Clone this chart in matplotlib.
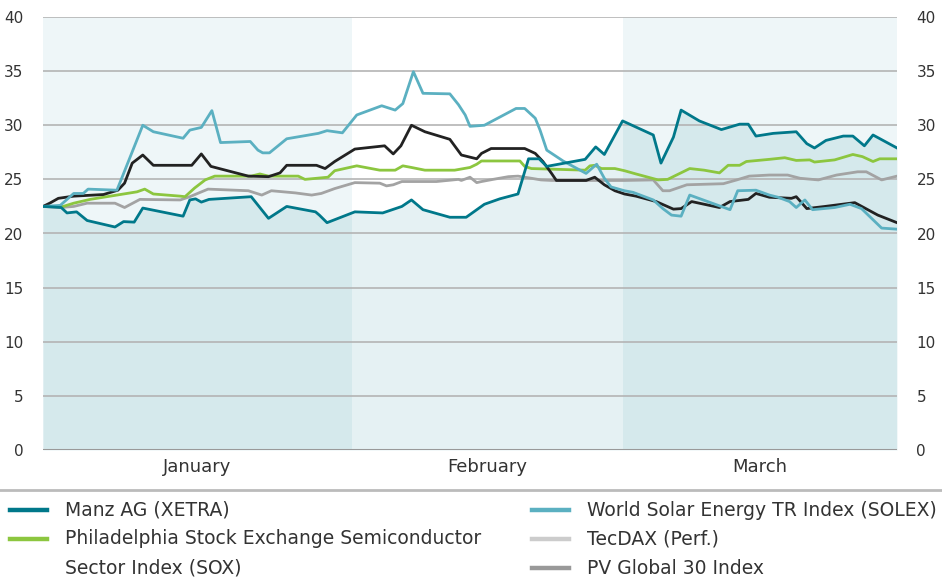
import matplotlib.pyplot as plt
from matplotlib.lines import Line2D

plt.rcParams['font.family'] = ['Liberation Sans Narrow', 'DejaVu Sans']

# trading-day position (0 = start of January, 89 = end of March) and price values
manz_x = [0, 1.9, 2.5, 3.5, 4.6, 7.5, 8.4, 9.5, 10.4, 14.6, 15.3, 15.9, 16.5, 17.3, 21.7,
          23.5, 25.4, 28.4, 28.8, 29.6, 32.5, 35.4, 37.4, 38.4, 39.6, 42.4, 44.1, 46.0, 47.6,
          49.5, 50.6, 51.7, 52.5, 56.5, 57.6, 58.5, 60.4, 63.6, 64.4, 65.7, 66.5, 68.4, 70.7,
          72.6, 73.5, 74.3, 76.1, 78.5, 79.6, 80.4, 81.6, 83.4, 84.4, 85.6, 86.5, 89]
manz_y = [22.5, 22.4, 21.9, 22.0, 21.2, 20.6, 21.1, 21.05, 22.35, 21.6, 23.1, 23.2, 22.9, 23.15, 23.4,
          21.4, 22.5, 22.0, 21.7, 21.0, 22.0, 21.9, 22.5, 23.1, 22.2, 21.5, 21.5, 22.7, 23.2,
          23.65, 26.9, 26.9, 26.2, 26.85, 28.0, 27.3, 30.4, 29.1, 26.5, 28.9, 31.4, 30.4, 29.6,
          30.1, 30.1, 29.0, 29.25, 29.4, 28.3, 27.9, 28.6, 29.0, 29.0, 28.1, 29.1, 27.9]

solex_x = [0, 1.8, 3.2, 4.2, 4.7, 7.7, 8.2, 10.4, 11.5, 14.6, 15.3, 16.5, 17.6, 18.5, 21.6,
           22.4, 22.9, 23.6, 25.4, 28.7, 29.6, 30.4, 31.2, 32.7, 35.3, 36.7, 37.5, 38.6, 39.6,
           42.4, 43.3, 44.0, 44.5, 46.0, 49.3, 50.2, 51.3, 51.8, 52.5, 54.2, 56.6, 57.7, 58.5,
           59.2, 60.6, 61.5, 63.6, 64.6, 65.5, 66.5, 67.4, 71.6, 72.4, 74.3, 75.7, 76.6, 77.8,
           78.5, 79.4, 80.2, 82.5, 84.1, 85.3, 87.4, 89]
solex_y = [22.5, 22.6, 23.7, 23.7, 24.1, 24.0, 25.1, 30.0, 29.4, 28.8, 29.55, 29.8, 31.35, 28.4, 28.5,
           27.7, 27.45, 27.45, 28.75, 29.25, 29.5, 29.4, 29.3, 30.95, 31.8, 31.4, 32.0, 34.95, 32.95,
           32.9, 31.9, 30.95, 29.9, 30.0, 31.55, 31.55, 30.65, 29.55, 27.7, 26.7, 25.55, 26.4, 25.1,
           24.3, 23.95, 23.8, 23.1, 22.3, 21.7, 21.6, 23.55, 22.2, 23.95, 24.0, 23.55, 23.35, 22.95,
           22.4, 23.1, 22.2, 22.4, 22.7, 22.3, 20.5, 20.4]

sox_x = [0, 2.1, 3.2, 4.9, 7.7, 9.8, 10.6, 11.5, 14.3, 14.8, 15.8, 16.9, 17.9, 21.7, 22.6,
         23.5, 26.6, 27.3, 29.7, 30.4, 32.7, 35.1, 36.7, 37.5, 38.4, 39.8, 42.9, 44.5, 45.2,
         45.7, 49.7, 50.2, 50.9, 56.5, 57.0, 57.5, 58.2, 59.6, 60.6, 61.8, 64.1, 65.1, 67.4,
         68.9, 70.5, 71.4, 72.6, 73.3, 75.7, 77.3, 78.5, 79.9, 80.4, 82.5, 84.4, 85.4, 86.5,
         87.2, 89]
sox_y = [22.5, 22.5, 22.8, 23.15, 23.55, 23.85, 24.1, 23.65, 23.45, 23.4, 24.2, 24.95, 25.3, 25.3, 25.5,
         25.3, 25.3, 25.0, 25.2, 25.8, 26.25, 25.85, 25.85, 26.25, 26.1, 25.85, 25.85, 26.1, 26.4,
         26.7, 26.7, 26.2, 26.0, 25.85, 26.25, 26.3, 26.0, 26.0, 25.8, 25.5, 24.95, 25.0, 26.0,
         25.85, 25.6, 26.3, 26.3, 26.65, 26.85, 27.0, 26.75, 26.8, 26.6, 26.8, 27.3, 27.1, 26.65,
         26.9, 26.9]

tecdax_x = [0, 0.7, 1.6, 3.2, 6.3, 7.8, 8.5, 9.3, 10.4, 11.5, 15.5, 16.5, 17.5, 21.4, 23.5,
            24.7, 25.4, 28.5, 29.4, 30.4, 32.5, 35.6, 36.5, 37.3, 38.4, 39.8, 42.4, 43.6, 45.2,
            45.7, 46.7, 50.2, 51.3, 52.1, 53.0, 53.5, 56.6, 57.5, 58.5, 59.6, 60.6, 61.8, 63.9,
            65.7, 66.5, 67.6, 70.5, 71.6, 73.5, 74.3, 75.7, 78.0, 78.5, 79.6, 81.5, 84.6, 87.0, 89]
tecdax_y = [22.5, 22.8, 23.25, 23.45, 23.6, 24.0, 24.65, 26.5, 27.25, 26.3, 26.3, 27.35, 26.2, 25.3, 25.25,
            25.6, 26.3, 26.3, 26.0, 26.65, 27.8, 28.1, 27.35, 28.1, 30.0, 29.4, 28.7, 27.25, 26.9,
            27.4, 27.85, 27.85, 27.4, 26.65, 25.55, 24.9, 24.9, 25.2, 24.5, 23.95, 23.65, 23.45, 22.95,
            22.25, 22.3, 22.95, 22.4, 22.95, 23.15, 23.7, 23.35, 23.25, 23.4, 22.3, 22.5, 22.85, 21.7, 21.0]

pv_x = [0, 1.8, 3.2, 4.6, 7.5, 8.5, 10.1, 14.3, 15.3, 17.2, 21.4, 22.8, 23.8, 26.3, 28.0,
        29.0, 30.4, 32.5, 35.1, 35.8, 36.5, 37.4, 41.0, 43.3, 43.6, 44.5, 45.2, 45.7, 46.9,
        48.5, 49.5, 50.9, 51.9, 53.0, 60.6, 63.6, 64.6, 65.3, 67.1, 70.9, 72.3, 73.6, 75.7,
        77.6, 78.9, 80.8, 82.7, 84.9, 85.8, 87.4, 89]
pv_y = [22.5, 22.4, 22.5, 22.8, 22.8, 22.4, 23.15, 23.1, 23.4, 24.1, 23.95, 23.55, 23.95, 23.75, 23.55,
        23.7, 24.15, 24.7, 24.65, 24.4, 24.5, 24.8, 24.8, 25.0, 24.9, 25.2, 24.7, 24.8, 25.0,
        25.25, 25.3, 25.1, 24.95, 24.9, 24.9, 24.95, 23.95, 23.95, 24.5, 24.6, 24.95, 25.3, 25.4,
        25.4, 25.1, 24.95, 25.4, 25.7, 25.7, 24.95, 25.3]

months = ['January', 'February', 'March']
month_edges = [0, 32.2, 60.4, 89]
yticks = [0, 5, 10, 15, 20, 25, 30, 35, 40]

legend_items = [
    (['Manz AG (XETRA)'], '#00788a'),
    (['Philadelphia Stock Exchange Semiconductor', 'Sector Index (SOX)'], '#8cc63f'),
    (['World Solar Energy TR Index (SOLEX)'], '#5bb0c1'),
    (['TecDAX (Perf.)'], '#cccccc'),
    (['PV Global 30 Index'], '#999999'),
]

fig = plt.figure(figsize=(9.42, 5.8), dpi=100)
ax = fig.add_axes([43 / 942, 130 / 580, 854 / 942, 433 / 580])

band_colors = ['#eef6f8', '#ffffff', '#eef6f8']
for i in range(3):
    ax.axvspan(month_edges[i], month_edges[i + 1], color=band_colors[i], lw=0, zorder=0)

ax.fill_between(manz_x, 0, manz_y, color='#00788a', alpha=0.1, lw=0, zorder=1)

for yv in yticks[1:]:
    ax.axhline(yv, color='#b4b4b4', lw=1.2, zorder=2)
ax.axhline(0, color='#999999', lw=2.2, zorder=2)

lw = 2.0
ax.plot(pv_x, pv_y, color='#a3a3a3', lw=lw, zorder=3)
ax.plot(sox_x, sox_y, color='#8cc63f', lw=lw, zorder=4)
ax.plot(tecdax_x, tecdax_y, color='#222222', lw=lw, zorder=5)
ax.plot(solex_x, solex_y, color='#5bb0c1', lw=lw, zorder=6)
ax.plot(manz_x, manz_y, color='#00788a', lw=lw, zorder=7)

ax.set_xlim(0, 89)
ax.set_ylim(0, 40)
ax.set_xticks([])
ax.set_yticks(yticks)
ax.tick_params(axis='y', length=0, labelsize=11, labelcolor='#333333',
               labelleft=True, labelright=True, pad=14)
for side in ['top', 'bottom', 'left', 'right']:
    ax.spines[side].set_visible(False)

for i, m in enumerate(months):
    ax.text((month_edges[i] + month_edges[i + 1]) / 2, -1.6, m, ha='center', va='center',
            fontsize=13, color='#333333')

fig.add_artist(Line2D([0, 1], [1 - 490 / 580] * 2, transform=fig.transFigure,
                      color='#bbbbbb', lw=2))

rows = [510, 539, 568]
positions = [(10, 0), (10, 1), (532, 0), (532, 1), (532, 2)]
for (lines, color), (hx, r) in zip(legend_items, positions):
    yy = 1 - rows[r] / 580
    fig.add_artist(Line2D([hx / 942, (hx + 37) / 942], [yy, yy], transform=fig.transFigure,
                          color=color, lw=3.2))
    for k, txt in enumerate(lines):
        fig.text((hx + 55) / 942, 1 - rows[r + k] / 580, txt, ha='left', va='center',
                 fontsize=13.5, color='#333333')

fig.savefig('out.png', dpi=100)
